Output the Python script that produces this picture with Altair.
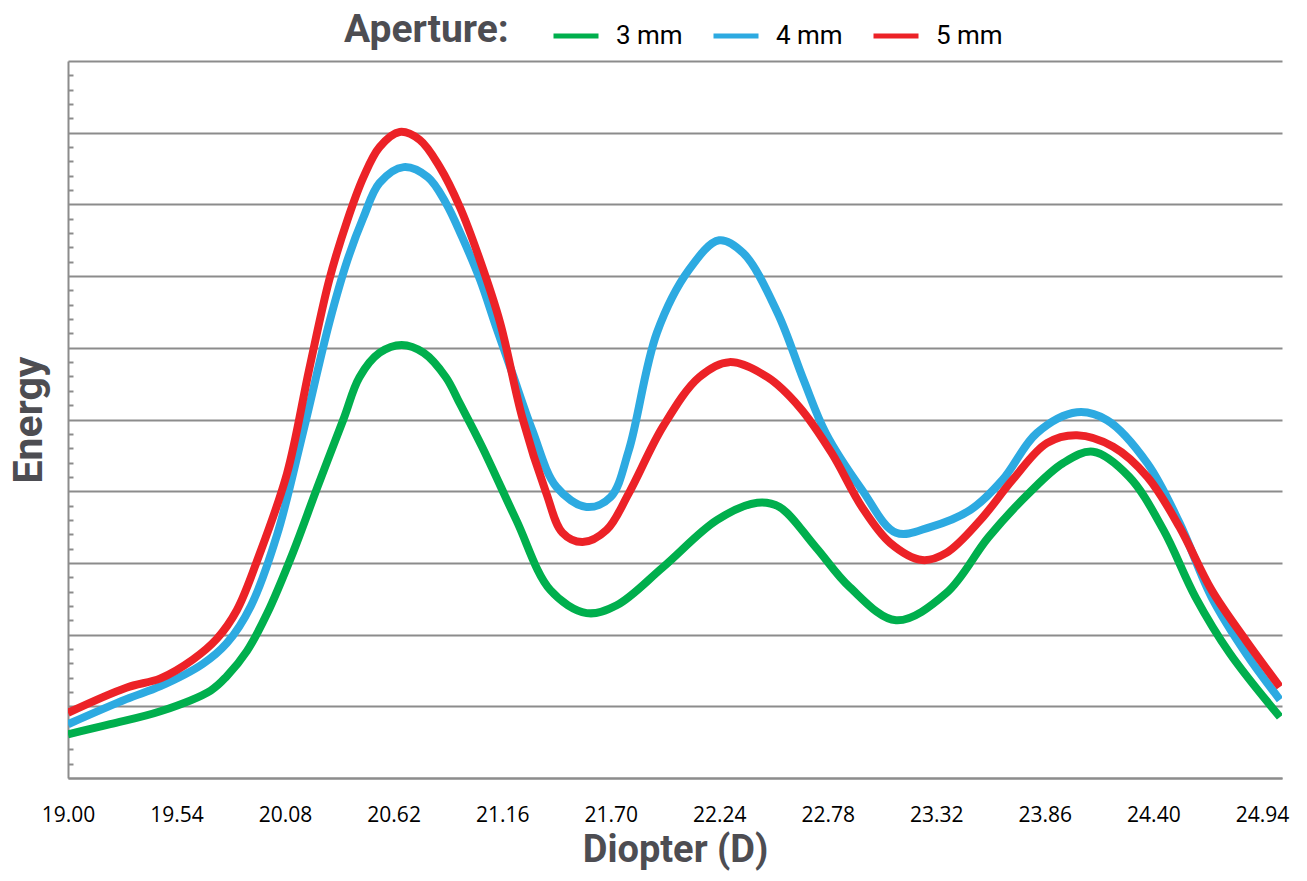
import altair as alt
import pandas as pd

# ---- data ----
APERTURES = ["3 mm", "4 mm", "5 mm"]
COLORS = ["#00AF4D", "#2DAAE1", "#EC2227"]

x_3mm = [19.00, 19.21, 19.46, 19.71, 19.79, 19.89, 19.99, 20.12, 20.24, 20.37, 20.45, 20.55,
         20.66, 20.77, 20.88, 20.95, 21.06, 21.23, 21.40, 21.58, 21.73, 21.96, 22.23, 22.43,
         22.54, 22.72, 22.89, 23.12, 23.37, 23.58, 23.78, 23.95, 24.10, 24.28, 24.45, 24.61,
         24.78, 25.03]
y_3mm = [0.61, 0.75, 0.93, 1.22, 1.42, 1.77, 2.29, 3.15, 4.05, 5.00, 5.59, 5.93,
         6.04, 5.93, 5.59, 5.22, 4.62, 3.60, 2.62, 2.30, 2.41, 2.94, 3.60, 3.84,
         3.78, 3.22, 2.66, 2.20, 2.58, 3.36, 3.97, 4.39, 4.55, 4.20, 3.46, 2.52,
         1.74, 0.85]

x_4mm = [19.00, 19.29, 19.46, 19.67, 19.79, 19.91, 20.04, 20.17, 20.30, 20.39, 20.47, 20.55,
         20.67, 20.79, 20.88, 20.96, 21.05, 21.13, 21.21, 21.31, 21.43, 21.58, 21.70, 21.79,
         21.93, 22.09, 22.24, 22.36, 22.53, 22.66, 22.77, 22.95, 23.12, 23.29, 23.49, 23.65,
         23.82, 24.02, 24.17, 24.37, 24.53, 24.69, 24.86, 25.03]
y_4mm = [0.75, 1.10, 1.28, 1.59, 1.88, 2.40, 3.39, 4.83, 6.35, 7.22, 7.82, 8.30,
         8.52, 8.38, 8.02, 7.55, 6.95, 6.29, 5.65, 4.85, 4.06, 3.78, 3.92, 4.57,
         6.21, 7.09, 7.50, 7.32, 6.49, 5.55, 4.81, 4.02, 3.42, 3.50, 3.74, 4.16,
         4.81, 5.10, 4.99, 4.39, 3.56, 2.52, 1.74, 1.09]

x_5mm = [19.00, 19.29, 19.46, 19.62, 19.74, 19.84, 19.95, 20.09, 20.20, 20.30, 20.39, 20.47,
         20.55, 20.65, 20.75, 20.85, 20.95, 21.05, 21.15, 21.26, 21.38, 21.46, 21.56, 21.68,
         21.79, 21.96, 22.14, 22.29, 22.48, 22.64, 22.80, 22.95, 23.09, 23.25, 23.37, 23.54,
         23.70, 23.87, 24.02, 24.20, 24.37, 24.53, 24.69, 24.86, 25.03]
y_5mm = [0.91, 1.26, 1.39, 1.65, 1.94, 2.34, 3.10, 4.25, 5.70, 6.95, 7.78, 8.38,
         8.80, 9.01, 8.90, 8.52, 7.96, 7.22, 6.35, 5.03, 3.97, 3.42, 3.29, 3.46,
         3.97, 4.90, 5.59, 5.80, 5.59, 5.17, 4.53, 3.78, 3.28, 3.04, 3.14, 3.60,
         4.16, 4.67, 4.78, 4.62, 4.20, 3.50, 2.62, 1.92, 1.27]

X_TICKS = [19.00, 19.54, 20.08, 20.62, 21.16, 21.70, 22.24, 22.78, 23.32, 23.86, 24.40, 24.94]
Y_GRID = [0, 1, 2, 3, 4, 5, 6, 7, 8, 9, 10]
Y_MINOR = [round(i * 0.2, 1) for i in range(51) if i % 5 != 0]

rows = []
for name, xs, ys in [("4 mm", x_4mm, y_4mm), ("3 mm", x_3mm, y_3mm), ("5 mm", x_5mm, y_5mm)]:
    for xv, yv in zip(xs, ys):
        rows.append({"diopter": xv, "energy": yv, "aperture": name})
df = pd.DataFrame(rows)

W, H = 1214, 717
GRID = "#8c8c8c"
TITLE_COLOR = "#4d4d52"

x_scale = alt.Scale(domain=[19, 25.04], nice=False, zero=False)
y_scale = alt.Scale(domain=[0, 10], nice=False)

x_axis = alt.Axis(values=X_TICKS, format=".2f", title="Diopter (D)", grid=False,
                  ticks=False, domainColor=GRID, domainWidth=2,
                  labelFont="Open Sans", labelFontSize=21, labelColor="#000000",
                  labelPadding=26, labelFlush=False, labelOverlap=False,
                  titleFont="Roboto", titleFontWeight="bold", titleFontSize=38,
                  titleColor=TITLE_COLOR, titlePadding=6)

lines = alt.Chart(df).mark_line(strokeWidth=8, interpolate="catmull-rom", clip=True).encode(
    x=alt.X("diopter:Q", scale=x_scale, axis=x_axis),
    y=alt.Y("energy:Q", scale=y_scale,
            axis=alt.Axis(values=Y_GRID, labels=False, ticks=False, grid=True,
                          gridColor=GRID, gridWidth=2, domainColor=GRID, domainWidth=2,
                          title="Energy", titleFont="Roboto", titleFontWeight="bold",
                          titleFontSize=41, titleColor=TITLE_COLOR, titlePadding=18)),
    color=alt.Color("aperture:N",
                    scale=alt.Scale(domain=APERTURES, range=COLORS),
                    legend=alt.Legend(title="Aperture:", orient="none", legendX=276, legendY=-50,
                                      direction="horizontal", titleOrient="left",
                                      titleFont="Roboto", titleFontSize=39, titleFontWeight="bold",
                                      titleColor=TITLE_COLOR, titlePadding=42, titleLimit=0,
                                      symbolType="stroke", symbolSize=2025, symbolStrokeWidth=5,
                                      labelFont="Roboto", labelFontSize=26, labelColor="#000000",
                                      labelOffset=15, columnPadding=20)),
)

minor = alt.Chart(df).mark_line(opacity=0).encode(
    x=alt.X("diopter:Q", scale=x_scale, axis=x_axis),
    y=alt.Y("energy:Q", scale=y_scale,
            axis=alt.Axis(orient="right", offset=-W, values=Y_MINOR, labels=False,
                          ticks=True, tickSize=5, tickWidth=2, tickColor=GRID,
                          domain=False, grid=False, title=None)),
    detail="aperture:N",
)

chart = alt.layer(lines, minor).resolve_axis(y="independent").properties(
    width=W, height=H,
    autosize=alt.AutoSizeParams(type="none"),
    padding={"left": 60, "top": 53, "right": 15, "bottom": 94},
).configure_view(stroke=None)

chart.save("out.html", embed_options={"renderer": "svg", "actions": False})
